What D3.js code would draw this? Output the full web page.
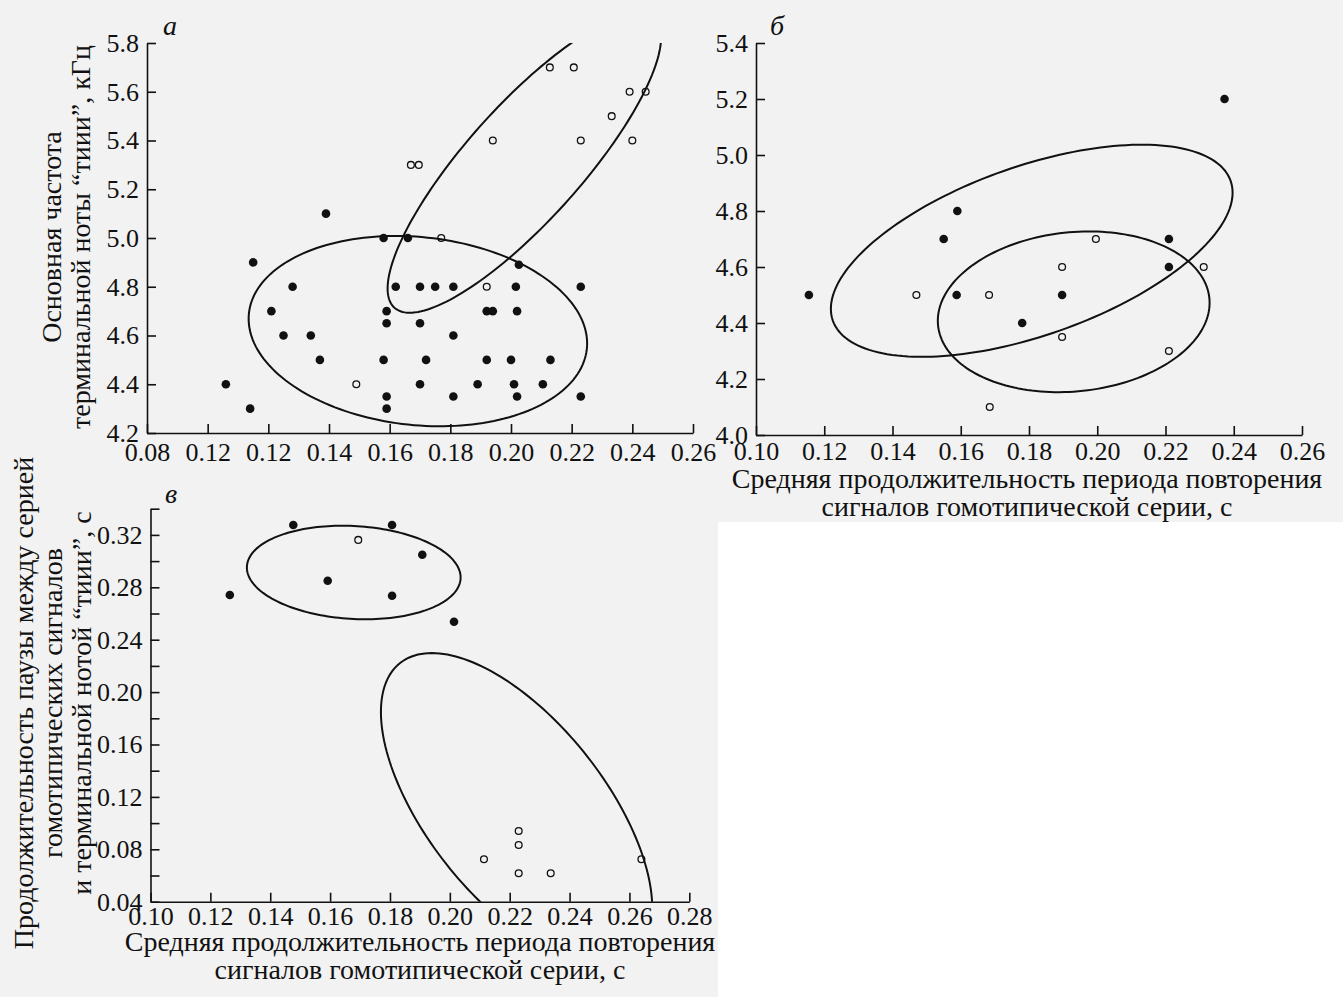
<!DOCTYPE html>
<html>
<head>
<meta charset="utf-8">
<script src="https://cdn.jsdelivr.net/npm/d3@7"></script>
<style>
  body { margin: 0; background: #fff; }
  svg text { font-family: "Liberation Serif", "DejaVu Serif", serif; fill: #111; }
  .domain, .tick line { stroke: #111; stroke-width: 1.6; }
</style>
</head>
<body>
<svg id="chart"></svg>
<script>
// PANEL A: x = period (s), y = basic frequency (kHz)
const aFilled = [
  [0.139, 5.1], [0.158, 5.0], [0.166, 5.0], [0.115, 4.9], [0.128, 4.8], [0.121, 4.7],
  [0.125, 4.6], [0.134, 4.6], [0.137, 4.5], [0.106, 4.4], [0.114, 4.3], [0.158, 4.5],
  [0.159, 4.7], [0.159, 4.65], [0.159, 4.35], [0.159, 4.3], [0.162, 4.8], [0.170, 4.8],
  [0.170, 4.65], [0.170, 4.4], [0.172, 4.5], [0.2026, 4.89], [0.175, 4.8], [0.181, 4.8],
  [0.2016, 4.8], [0.223, 4.8], [0.192, 4.7], [0.194, 4.7], [0.202, 4.7], [0.181, 4.6],
  [0.192, 4.5], [0.200, 4.5], [0.213, 4.5], [0.189, 4.4], [0.201, 4.4], [0.2105, 4.4],
  [0.181, 4.35], [0.202, 4.35], [0.223, 4.35]
]
const aOpen = [
  [0.149, 4.4], [0.177, 5.0], [0.192, 4.8], [0.167, 5.3], [0.1696, 5.3], [0.194, 5.4],
  [0.2128, 5.7], [0.2207, 5.7], [0.2391, 5.6], [0.2444, 5.6], [0.2332, 5.5], [0.223, 5.4],
  [0.240, 5.4]
]
// ellipses: centre c, conjugate half-diameters u and v (data units)
const aEllipses = [
  { c: [0.1693, 4.618], u: [0.0557, -0.0730], v: [-0.00324, -0.3835] },
  { c: [0.2044, 5.308], u: [0.02458, 0], v: [0.03779, 0.6146] }
]
const aXTicks = [0.08, 0.10, 0.12, 0.14, 0.16, 0.18, 0.20, 0.22, 0.24, 0.26]
const aXLabels = ['0.08', '0.12', '0.12', '0.14', '0.16', '0.18', '0.20', '0.22', '0.24', '0.26']
const aYTicks = [4.2, 4.4, 4.6, 4.8, 5.0, 5.2, 5.4, 5.6, 5.8]
const aYLabels = ['4.2', '4.4', '4.6', '4.8', '5.0', '5.2', '5.4', '5.6', '5.8']

// PANEL B
const bFilled = [
  [0.1155, 4.5], [0.1588, 4.5], [0.155, 4.7], [0.159, 4.8], [0.178, 4.4],
  [0.2373, 5.2], [0.221, 4.7], [0.221, 4.6], [0.1897, 4.5]
]
const bOpen = [
  [0.147, 4.5], [0.1683, 4.5], [0.1685, 4.1], [0.1996, 4.7], [0.1897, 4.6],
  [0.2312, 4.6], [0.1897, 4.35], [0.221, 4.3]
]
const bEllipses = [
  { c: [0.1808, 4.658], u: [0.05886, 0.2073], v: [0, 0.317] },
  { c: [0.1931, 4.44], u: [0.03982, 0.0322], v: [0, 0.2852] }
]
const bXTicks = [0.10, 0.12, 0.14, 0.16, 0.18, 0.20, 0.22, 0.24, 0.26]
const bXLabels = ['0.10', '0.12', '0.14', '0.16', '0.18', '0.20', '0.22', '0.24', '0.26']
const bYTicks = [4.0, 4.2, 4.4, 4.6, 4.8, 5.0, 5.2, 5.4]
const bYLabels = ['4.0', '4.2', '4.4', '4.6', '4.8', '5.0', '5.2', '5.4']

// PANEL C: y = pause duration (s)
const cFilled = [
  [0.1477, 0.3276], [0.1807, 0.3276], [0.1908, 0.3049], [0.1592, 0.285],
  [0.1265, 0.2741], [0.1807, 0.2736], [0.2014, 0.2537]
]
const cOpen = [
  [0.1694, 0.3162], [0.2230, 0.094], [0.2230, 0.0833], [0.2114, 0.0724],
  [0.2230, 0.0617], [0.2337, 0.0617], [0.2640, 0.0724]
]
const cEllipses = [
  { c: [0.1679, 0.2913], u: [0.0357, -0.0038], v: [0, 0.0355] },
  { c: [0.2223, 0.110], u: [0.0354, 0], v: [0.0283, -0.1198] }
]
const cXTicks = [0.10, 0.12, 0.14, 0.16, 0.18, 0.20, 0.22, 0.24, 0.26, 0.28]
const cXLabels = ['0.10', '0.12', '0.14', '0.16', '0.18', '0.20', '0.22', '0.24', '0.26', '0.28']
const cYTicks = [0.04, 0.06, 0.08, 0.10, 0.12, 0.14, 0.16, 0.18, 0.20, 0.22, 0.24, 0.26, 0.28, 0.30, 0.32, 0.34]
const cYLabels = ['0.04', '', '0.08', '', '0.12', '', '0.16', '', '0.20', '', '0.24', '', '0.28', '', '0.32', '']

const xTitle = ['Средняя продолжительность периода повторения', 'сигналов гомотипической серии, с']
const aYTitle = ['Основная частота', 'терминальной ноты “тиии”, кГц']
const cYTitle = ['Продолжительность паузы между серией', 'гомотипических сигналов', 'и терминальной нотой “тиии”, с']

const W = 1343, H = 997
const svg = d3.select('#chart').attr('width', W).attr('height', H)

// scanned page tone, white corner at lower right
svg.append('rect').attr('width', W).attr('height', H).attr('fill', '#f2f2f2')
svg.append('rect').attr('x', 718).attr('y', 522)
  .attr('width', W - 718).attr('height', H - 522).attr('fill', '#fff')

function ellipsePoints(e) {
  return d3.range(0, 360, 2).map(deg => {
    const t = deg * Math.PI / 180
    return [
      e.c[0] + e.u[0] * Math.cos(t) + e.v[0] * Math.sin(t),
      e.c[1] + e.u[1] * Math.cos(t) + e.v[1] * Math.sin(t)
    ]
  })
}

function drawPanel(p) {
  const x = d3.scaleLinear().domain(d3.extent(p.xTicks)).range(p.xRange)
  const y = d3.scaleLinear().domain(d3.extent(p.yTicks)).range(p.yRange)
  const g = svg.append('g')

  g.append('clipPath').attr('id', 'clip-' + p.id)
    .append('rect')
    .attr('x', p.xRange[0]).attr('y', p.yRange[1])
    .attr('width', p.xRange[1] - p.xRange[0])
    .attr('height', p.yRange[0] - p.yRange[1])

  // AXES (ticks point inward)
  g.append('g')
    .attr('transform', `translate(0, ${p.yRange[0]})`)
    .call(d3.axisBottom(x).tickValues(p.xTicks).tickFormat((d, i) => p.xLabels[i])
      .tickSizeInner(-9).tickSizeOuter(0).tickPadding(p.xPad))
  g.append('g')
    .attr('transform', `translate(${p.xRange[0]}, 0)`)
    .call(d3.axisLeft(y).tickValues(p.yTicks).tickFormat((d, i) => p.yLabels[i])
      .tickSizeInner(-9).tickSizeOuter(0).tickPadding(8))
  g.selectAll('.tick text').attr('font-size', 26).attr('font-family', null)

  // ELLIPSES
  const line = d3.line().x(d => x(d[0])).y(d => y(d[1])).curve(d3.curveLinearClosed)
  g.append('g').attr('clip-path', `url(#clip-${p.id})`)
    .selectAll('path').data(p.ellipses).enter()
    .append('path')
      .attr('d', d => line(ellipsePoints(d)))
      .attr('fill', 'none').attr('stroke', '#111').attr('stroke-width', 2)

  // POINTS
  g.append('g').selectAll('circle').data(p.filled).enter()
    .append('circle')
      .attr('cx', d => x(d[0])).attr('cy', d => y(d[1])).attr('r', 4.3)
      .attr('fill', '#111')
  g.append('g').selectAll('circle').data(p.open).enter()
    .append('circle')
      .attr('cx', d => x(d[0])).attr('cy', d => y(d[1])).attr('r', 3.4)
      .attr('fill', 'none').attr('stroke', '#111').attr('stroke-width', 1.3)

  g.append('text')
    .attr('x', p.letterPos[0]).attr('y', p.letterPos[1])
    .attr('font-size', 28).attr('font-style', 'italic')
    .text(p.letter)
}

drawPanel({
  id: 'a', letter: 'а', letterPos: [163, 35],
  xTicks: aXTicks, xLabels: aXLabels, yTicks: aYTicks, yLabels: aYLabels,
  xRange: [147, 693], yRange: [433, 43], xPad: 10,
  filled: aFilled, open: aOpen, ellipses: aEllipses
})
drawPanel({
  id: 'b', letter: 'б', letterPos: [770, 35],
  xTicks: bXTicks, xLabels: bXLabels, yTicks: bYTicks, yLabels: bYLabels,
  xRange: [756, 1302], yRange: [435, 43], xPad: 7,
  filled: bFilled, open: bOpen, ellipses: bEllipses
})
drawPanel({
  id: 'c', letter: 'в', letterPos: [165, 503],
  xTicks: cXTicks, xLabels: cXLabels, yTicks: cYTicks, yLabels: cYLabels,
  xRange: [150.5, 689.3], yRange: [901.7, 508.7], xPad: 5,
  filled: cFilled, open: cOpen, ellipses: cEllipses
})

// AXIS TITLES
function hTitle(lines, cx, y0) {
  svg.append('g').selectAll('text').data(lines).enter()
    .append('text')
      .attr('x', cx).attr('y', (d, i) => y0 + i * 28)
      .attr('text-anchor', 'middle').attr('font-size', 28)
      .text(d => d)
}
function vTitle(lines, x0, cy) {
  svg.append('g').selectAll('text').data(lines).enter()
    .append('text')
      .attr('transform', (d, i) => `translate(${x0 + i * 29}, ${cy}) rotate(-90)`)
      .attr('text-anchor', 'middle').attr('font-size', 28)
      .text(d => d)
}
hTitle(xTitle, 1027, 488)
hTitle(xTitle, 420, 951)
vTitle(aYTitle, 61, 237)
vTitle(cYTitle, 33, 703)
</script>
</body>
</html>
